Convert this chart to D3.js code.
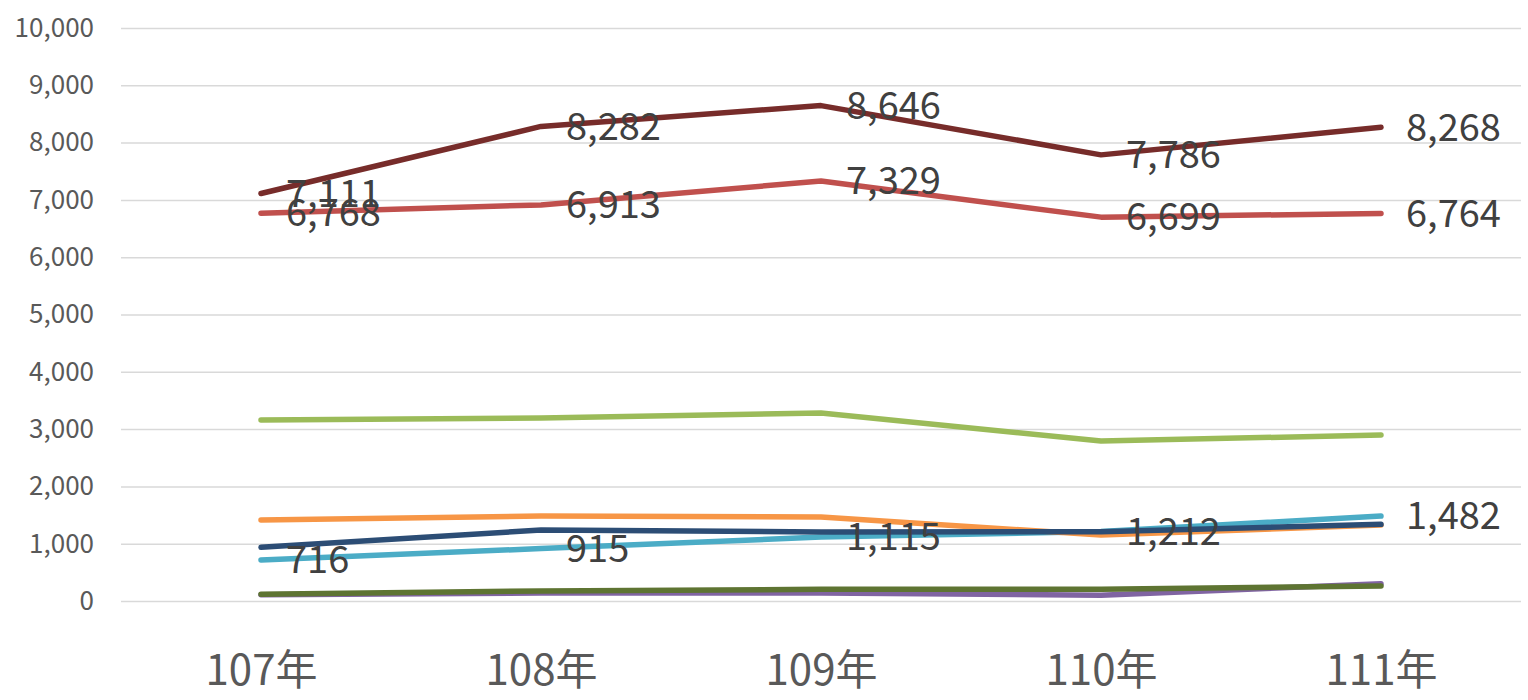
<!DOCTYPE html>
<html>
<head>
<meta charset="utf-8">
<script src="https://cdn.jsdelivr.net/npm/d3@7"></script>
<style>
  body { margin: 0; background: #fff; }
  svg { display: block; font-family: "Noto Sans CJK TC", "Noto Sans", sans-serif; }
</style>
</head>
<body>
<div id="chart"></div>
<script>
// data
const years = ['107年', '108年', '109年', '110年', '111年'];
const yTicks = [0, 1000, 2000, 3000, 4000, 5000, 6000, 7000, 8000, 9000, 10000];

const purpleVals = [110, 140, 140, 100, 300];
const oliveVals = [117, 175, 204, 204, 262];
const cyanVals = [716, 915, 1115, 1212, 1482];
const orangeVals = [1414, 1483, 1466, 1152, 1326];
const navyVals = [937, 1239, 1204, 1210, 1338];
const greenVals = [3159, 3194, 3281, 2792, 2897];
const redVals = [6768, 6913, 7329, 6699, 6764];
const darkRedVals = [7111, 8282, 8646, 7786, 8268];

const series = [
  {key: 'purple', values: purpleVals, color: '#8064A2', labels: false},
  {key: 'olive', values: oliveVals, color: '#5E7432', labels: false},
  {key: 'cyan', values: cyanVals, color: '#4BACC6', labels: true},
  {key: 'orange', values: orangeVals, color: '#F79646', labels: false},
  {key: 'navy', values: navyVals, color: '#2C4D75', labels: false},
  {key: 'green', values: greenVals, color: '#9BBB59', labels: false},
  {key: 'red', values: redVals, color: '#C0504D', labels: true},
  {key: 'darkred', values: darkRedVals, color: '#772C2A', labels: true}
];

const margin = {top: 28, right: 7, bottom: 99, left: 121};
const width = 1528, height = 700;

const svg = d3.select('#chart').append('svg')
    .attr('width', width)
    .attr('height', height);

const x = d3.scalePoint()
    .domain(years)
    .range([margin.left, width - margin.right])
    .padding(0.5);

const y = d3.scaleLinear()
    .domain([0, 10000])
    .range([height - margin.bottom, margin.top]);

// grid
svg.append('g')
  .selectAll('line')
  .data(yTicks)
  .join('line')
    .attr('x1', margin.left)
    .attr('x2', width - margin.right)
    .attr('y1', d => y(d) + 0.5)
    .attr('y2', d => y(d) + 0.5)
    .attr('stroke', '#d9d9d9')
    .attr('stroke-width', 1.5);

// y axis
svg.append('g')
    .attr('transform', `translate(${margin.left},0)`)
    .call(d3.axisLeft(y).tickValues(yTicks).tickFormat(d3.format(',')).tickSize(0).tickPadding(27))
    .call(g => g.select('.domain').remove())
    .call(g => g.selectAll('text')
        .attr('fill', '#595959')
        .attr('font-size', '26px')
        .attr('font-family', '"Noto Sans CJK TC", "Noto Sans", sans-serif'));

// x axis
svg.append('g')
    .attr('transform', `translate(0,${height - margin.bottom})`)
    .call(d3.axisBottom(x).tickSize(0).tickPadding(54))
    .call(g => g.select('.domain').remove())
    .call(g => g.selectAll('text')
        .attr('fill', '#595959')
        .attr('font-size', '42px')
        .attr('font-family', '"Noto Sans CJK TC", "Noto Sans", sans-serif'));

const line = d3.line()
    .x((d, i) => x(years[i]))
    .y(d => y(d));

svg.append('g')
    .attr('class', 'lines')
  .selectAll('path')
  .data(series)
  .join('path')
    .attr('d', d => line(d.values))
    .attr('fill', 'none')
    .attr('stroke', d => d.color)
    .attr('stroke-width', 5.5)
    .attr('stroke-linecap', 'round')
    .attr('stroke-linejoin', 'round');

const labelData = series.filter(s => s.labels)
    .flatMap(s => s.values.map((v, i) => ({v, year: years[i]})));

svg.append('g')
    .attr('class', 'labels')
  .selectAll('text')
  .data(labelData)
  .join('text')
    .attr('x', d => x(d.year) + 25)
    .attr('y', d => y(d.v))
    .attr('dy', '0.35em')
    .attr('fill', '#404040')
    .attr('font-size', '38px')
    .text(d => d3.format(',')(d.v));
</script>
</body>
</html>
